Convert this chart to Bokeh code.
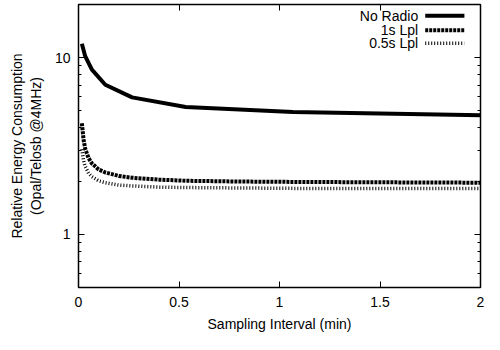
from bokeh.plotting import figure
from bokeh.models import (Range1d, FixedTicker, LinearAxis, LogAxis, Label, Arrow,
                          CustomLabelingPolicy)
from bokeh.embed import file_html
from bokeh.resources import INLINE

# ---- data ----
x_noradio = [0.0167, 0.0333, 0.0667, 0.1333, 0.2667, 0.5333, 1.0667, 2.1333]
y_noradio = [12.0, 10.2, 8.55, 7.03, 5.96, 5.26, 4.92, 4.70]

x_lpl = [0.0167, 0.025, 0.0333, 0.05, 0.0667, 0.1, 0.1333, 0.2, 0.2667, 0.4,
         0.5333, 0.8, 1.0667, 1.5, 2.0]
y_lpl_1s = [4.25, 3.45, 3.05, 2.70, 2.52, 2.33, 2.24, 2.14, 2.09, 2.04,
            2.01, 1.99, 1.98, 1.97, 1.96]
y_lpl_05s = [3.03, 2.62, 2.42, 2.22, 2.12, 2.01, 1.96, 1.90, 1.88, 1.85,
             1.84, 1.83, 1.82, 1.82, 1.82]

series_names = ["No Radio", "1s Lpl", "0.5s Lpl"]

x_ticks = [0, 0.5, 1, 1.5, 2]
x_tick_labels = ["0", "0.5", "1", "1.5", "2"]
y_ticks = [1, 10]
y_minor = [0.5, 0.6, 0.7, 0.8, 0.9, 2, 3, 4, 5, 6, 7, 8, 9, 20]

FONT = "Liberation Sans"
FS = "14px"

p = figure(width=484, height=334, y_axis_type="log",
           x_range=Range1d(0, 2), y_range=Range1d(0.5, 20),
           output_backend="svg", toolbar_location=None,
           min_border_left=78, min_border_right=0,
           min_border_top=0, min_border_bottom=0)
p.grid.visible = False
p.outline_line_color = "black"
p.outline_line_width = 1.5
p.background_fill_color = "white"
p.border_fill_color = "white"

def style_axis(ax):
    ax.axis_line_color = "black"
    ax.major_tick_in = 6
    ax.major_tick_out = 0
    ax.minor_tick_in = 3
    ax.minor_tick_out = 0
    ax.major_tick_line_color = "black"
    ax.minor_tick_line_color = "black"
    ax.major_tick_line_width = 1
    ax.minor_tick_line_width = 1
    ax.major_label_text_font = FONT
    ax.major_label_text_font_size = FS
    ax.major_label_text_color = "black"
    ax.axis_label_text_font = FONT
    ax.axis_label_text_font_size = FS
    ax.axis_label_text_font_style = "normal"
    ax.axis_label_text_color = "black"

hide_all = CustomLabelingPolicy(code="""
    for (const i of Array.from(indices)) indices.unset(i)
    return indices
""")

xt = FixedTicker(ticks=x_ticks, minor_ticks=[])
yt = FixedTicker(ticks=y_ticks, minor_ticks=y_minor)

xa = p.xaxis[0]
xa.ticker = xt
xa.major_label_overrides = {t: s for t, s in zip(x_ticks, x_tick_labels)}
xa.axis_label = "Sampling Interval (min)"
style_axis(xa)
xa.major_label_standoff = 9
xa.axis_label_standoff = 6

ya = p.yaxis[0]
ya.ticker = yt
ya.major_label_overrides = {1: "1", 10: "10"}
ya.axis_label = "Relative Energy Consumption\n(Opal/Telosb @4MHz)"
style_axis(ya)
ya.major_label_standoff = 8
ya.axis_label_standoff = 8

top = LinearAxis(ticker=FixedTicker(ticks=x_ticks, minor_ticks=[]))
style_axis(top)
top.major_label_policy = hide_all
top.major_label_text_font_size = "1px"
top.major_label_standoff = 0
p.add_layout(top, "above")

right = LogAxis(ticker=FixedTicker(ticks=y_ticks, minor_ticks=y_minor))
style_axis(right)
right.major_label_policy = hide_all
right.major_label_text_font_size = "1px"
right.major_label_standoff = 0
p.add_layout(right, "right")

# ---- series ----
p.line(x_noradio, y_noradio, line_color="black", line_width=4)
p.line(x_lpl, y_lpl_1s, line_color="black", line_width=4, line_dash="3 1")
p.line(x_lpl, y_lpl_05s, line_color="black", line_width=3.5, line_dash="1 2")

# ---- gnuplot-style legend (text right, sample line on right) ----
leg_y = [17.3, 14.3, 12.05]
leg_dash = ["solid", "3 1", "1 2"]
leg_w = [4, 4, 3.5]
for name, yy, dash, w in zip(series_names, leg_y, leg_dash, leg_w):
    p.add_layout(Label(x=1.69, y=yy, text=name, text_align="right",
                       text_baseline="middle", text_font=FONT,
                       text_font_style="normal",
                       text_font_size=FS, text_color="black"))
    p.add_layout(Arrow(end=None, x_start=1.725, y_start=yy, x_end=1.92, y_end=yy,
                       line_color="black", line_width=w, line_dash=dash))

open("out.html", "w").write(file_html(p, INLINE))
